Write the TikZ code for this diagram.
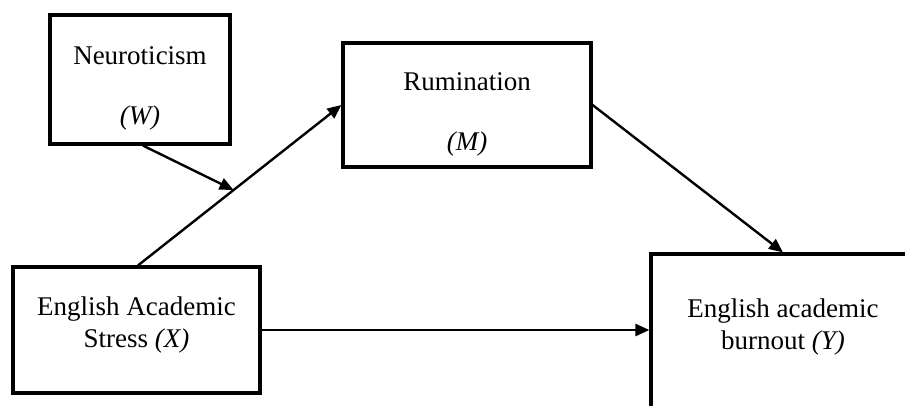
\documentclass[tikz,border=0pt]{standalone}
\usepackage{fontspec}
\setmainfont{Liberation Serif}
\usetikzlibrary{arrows.meta}
\begin{document}
\begin{tikzpicture}[x=1pt,y=-1pt,
  box/.style={draw=black,line width=3.2pt,rectangle,inner sep=0pt},
  lbl/.style={anchor=base,inner sep=0pt,font=\fontsize{27}{32}\selectfont},
  conn/.style={line width=2.4pt,-{Triangle[length=14pt,width=12pt]}}]
\useasboundingbox (0,0) rectangle (905,405);
\clip (0,0) rectangle (905,405);
% boxes
\node[box,minimum width=180pt,minimum height=129pt] (W) at (140,79.5) {};
\node[box,minimum width=248pt,minimum height=124pt] (M) at (467,105) {};
\node[box,minimum width=247pt,minimum height=126pt] (X) at (136.5,330) {};
\node[box,minimum width=264pt,minimum height=170pt] (Y) at (783,339) {};
% texts
\node[lbl] (Wa) at (140,64) {Neuroticism};
\node[lbl] (Wb) at (140,124) {\itshape (W)};
\node[lbl] (Ma) at (467,90) {Rumination};
\node[lbl] (Mb) at (467,150) {\itshape (M)};
\node[lbl] (Xa) at (136.5,315) {English Academic};
\node[lbl] (Xb) at (136.5,347) {Stress \itshape (X)};
\node[lbl] (Ya) at (783,317) {English academic};
\node[lbl] (Yb) at (783,349) {burnout \itshape (Y)};
% connectors
\coordinate (xs) at ([xshift=1.5pt]X.north);
\draw[conn] (xs) -- (M.west) coordinate[pos=0.47] (mid);
\coordinate (ws) at ([xshift=3pt]W.south);
\draw[conn] (ws) -- (mid);
\draw[conn] (M.east) -- (Y.north);
\draw[conn] (X.east) -- (X.east -| Y.west);
\end{tikzpicture}
\end{document}
